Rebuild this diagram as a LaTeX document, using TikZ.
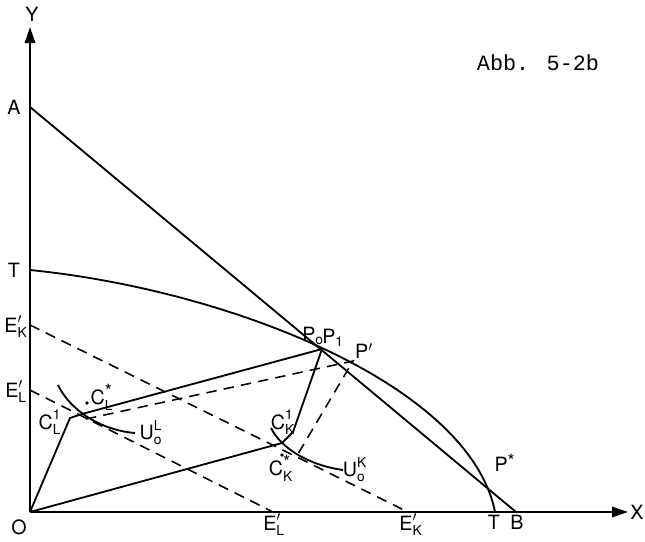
\documentclass[tikz,border=0pt]{standalone}
\usepackage{amsmath}
\usepackage{fontspec}
\setsansfont{TeX Gyre Heros}
\newfontfamily\abbfont{Liberation Mono}
\usepackage{tikz}
\usetikzlibrary{arrows.meta}

\newcommand{\bstar}{\text{\fontsize{13}{13}\selectfont\raisebox{-0.55ex}{*}}}

\begin{document}
\begin{tikzpicture}[x=0.025cm, y=-0.025cm,
    axis/.style={line width=1.4pt, -{Triangle[length=4mm, width=2.6mm]}},
    curve/.style={line width=1.3pt},
    budget/.style={line width=1.1pt, dash pattern=on 2.6mm off 1.8mm},
    lbl/.style={font=\sffamily\fontsize{14}{16}\selectfont, inner sep=1pt}]
    \useasboundingbox (0,0) rectangle (645,541);

    % Points
    \coordinate (O) at (30,512);
    \coordinate (Ytip) at (30,27);
    \coordinate (Xtip) at (628,512);
    \coordinate (A) at (30,107);
    \coordinate (B) at (516,512);
    \coordinate (Ty) at (30,270);
    \coordinate (Tx) at (495,512);
    \coordinate (EKy) at (30,325);
    \coordinate (ELy) at (30,390);
    \coordinate (ELx) at (273,512);
    \coordinate (EKx) at (408,512);
    \coordinate (CL1) at (70,418);
    \coordinate (CLa) at (82,414);
    \coordinate (CKa) at (282,443);
    \coordinate (CK1) at (293,432);
    \coordinate (P1) at (322,349);
    \coordinate (CLs) at (86,419);
    \coordinate (CKs) at (298,454);
    \coordinate (Pp) at (353,361);

    % Axes
    \draw[axis] (O) -- (Ytip);
    \draw[axis] (O) -- (Xtip);

    % Price line and transformation curve
    \draw[curve] (A) -- (B);
    \draw[curve] (Ty) .. controls (230,290) and (470,385) .. (Tx);

    % Income lines
    \draw[budget] (EKy) -- (EKx);
    \draw[budget] (ELy) -- (ELx);

    % Indifference curves
    \draw[curve] (58,385) .. controls (70,410) and (100,430) .. (135,433);
    \draw[curve] (271,428) .. controls (281,448) and (308,465) .. (343,470);

    % Consumption at P1
    \draw[curve] (O) -- (CL1) -- (CLa) -- (P1);
    \draw[curve] (O) -- (CKa) -- (CK1) -- (P1);

    % Consumption at P'
    \draw[budget] (CLs) -- (Pp) -- (CKs);
    \fill (87,403) circle (1.4pt);
    \fill (282,455) circle (1.4pt);

    % Labels
    \node[lbl] (labY) at (32,14) {Y};
    \node[lbl] (labX) at (637,512) {X};
    \node[lbl] (labO) at (19,527) {O};
    \node[lbl] (labA) at (14,107) {A};
    \node[lbl] (labTy) at (14,270) {T};
    \node[lbl] (labEKy) at (16,327) {$\text{E}'_{\text{K}}$};
    \node[lbl] (labELy) at (16,392) {$\text{E}'_{\text{L}}$};
    \node[lbl] (labELx) at (274,525) {$\text{E}'_{\text{L}}$};
    \node[lbl] (labEKx) at (411,525) {$\text{E}'_{\text{K}}$};
    \node[lbl] (labTx) at (494,522) {T};
    \node[lbl] (labB) at (517,522) {B};
    \node[lbl] (labP0) at (313,336) {$\text{P}_{\text{o}}$};
    \node[lbl] (labP1) at (333,338) {$\text{P}_{\text{1}}$};
    \node[lbl] (labPp) at (364,351) {P$'$};
    \node[lbl] (labPs) at (505,463) {$\text{P}^{\bstar}$};
    \node[lbl] (labCL1) at (50,422) {$\text{C}^{\text{1}}_{\text{L}}$};
    \node[lbl] (labCLs) at (102,397) {$\text{C}^{\bstar}_{\text{L}}$};
    \node[lbl] (labCK1) at (283,422) {$\text{C}^{\text{1}}_{\text{K}}$};
    \node[lbl] (labCKs) at (281,468) {$\text{C}^{\bstar}_{\text{K}}$};
    \node[lbl] (labUL) at (151,433) {$\text{U}^{\text{L}}_{\text{o}}$};
    \node[lbl] (labUK) at (355,470) {$\text{U}^{\text{K}}_{\text{o}}$};
    \node[font=\abbfont\fontsize{15.5}{17}\selectfont] (title) at (538,63) {Abb. 5-2b};
\end{tikzpicture}
\end{document}
